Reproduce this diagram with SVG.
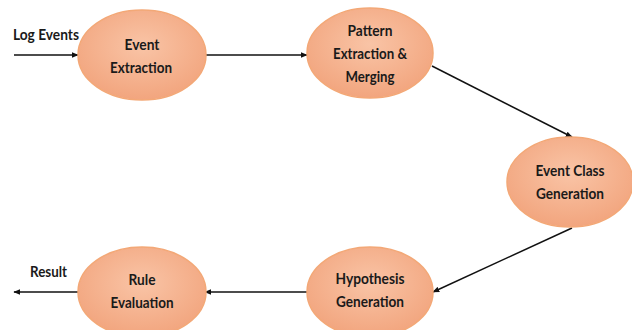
<svg xmlns="http://www.w3.org/2000/svg" width="632" height="330" viewBox="0 0 632 330">
<style>
.n{fill:url(#g);stroke:#f3a877;stroke-width:1.5}
.t{font-family:Lato,"Liberation Sans",sans-serif;font-weight:bold;font-size:16px;fill:#1a1a1a;text-anchor:middle}
.l{font-family:Lato,"Liberation Sans",sans-serif;font-weight:bold;font-size:16px;fill:#1a1a1a}
.c{stroke:#111;stroke-width:1.5;fill:none;marker-end:url(#a)}
</style>
<defs>
<radialGradient id="g" cx="50%" cy="40%" r="60%">
<stop offset="0" stop-color="#f9c4a6"/>
<stop offset="1" stop-color="#f2a57e"/>
</radialGradient>
<marker id="a" viewBox="0 0 10 10" refX="9" refY="5" markerWidth="7" markerHeight="7" markerUnits="userSpaceOnUse" orient="auto">
<path d="M0,1 L10,5 L0,9 z" fill="#111"/>
</marker>
</defs>
<rect width="632" height="330" fill="#fff"/>
<g id="connectors">
<line class="c" x1="14" y1="55" x2="78" y2="55"/>
<line class="c" x1="206" y1="55" x2="307" y2="55"/>
<line class="c" x1="432" y1="66" x2="572" y2="137"/>
<line class="c" x1="572" y1="228" x2="433" y2="292"/>
<line class="c" x1="307" y1="292" x2="205" y2="292"/>
<line class="c" x1="78" y1="292" x2="14" y2="292"/>
</g>
<g id="log-events"><text class="l" x="13" y="40" textLength="66" lengthAdjust="spacingAndGlyphs">Log Events</text></g>
<g id="result"><text class="l" x="30" y="277" textLength="37" lengthAdjust="spacingAndGlyphs">Result</text></g>
<g id="event-extraction">
<ellipse class="n" cx="142" cy="55" rx="64" ry="45"/>
<text class="t" x="142" y="50" textLength="35" lengthAdjust="spacingAndGlyphs">Event</text>
<text class="t" x="141" y="73" textLength="62" lengthAdjust="spacingAndGlyphs">Extraction</text>
</g>
<g id="pattern-extraction">
<ellipse class="n" cx="370" cy="53" rx="63" ry="45"/>
<text class="t" x="370" y="36" textLength="45" lengthAdjust="spacingAndGlyphs">Pattern</text>
<text class="t" x="370" y="59" textLength="74" lengthAdjust="spacingAndGlyphs">Extraction &amp;</text>
<text class="t" x="370" y="82" textLength="49" lengthAdjust="spacingAndGlyphs">Merging</text>
</g>
<g id="event-class">
<ellipse class="n" cx="570" cy="182" rx="63" ry="45"/>
<text class="t" x="570" y="176" textLength="69" lengthAdjust="spacingAndGlyphs">Event Class</text>
<text class="t" x="570" y="199" textLength="68" lengthAdjust="spacingAndGlyphs">Generation</text>
</g>
<g id="hypothesis">
<ellipse class="n" cx="370" cy="292" rx="63" ry="45"/>
<text class="t" x="370" y="284" textLength="69" lengthAdjust="spacingAndGlyphs">Hypothesis</text>
<text class="t" x="370" y="307" textLength="68" lengthAdjust="spacingAndGlyphs">Generation</text>
</g>
<g id="rule-evaluation">
<ellipse class="n" cx="142" cy="292" rx="64" ry="45"/>
<text class="t" x="142" y="285" textLength="27" lengthAdjust="spacingAndGlyphs">Rule</text>
<text class="t" x="142" y="308" textLength="63" lengthAdjust="spacingAndGlyphs">Evaluation</text>
</g>
</svg>
